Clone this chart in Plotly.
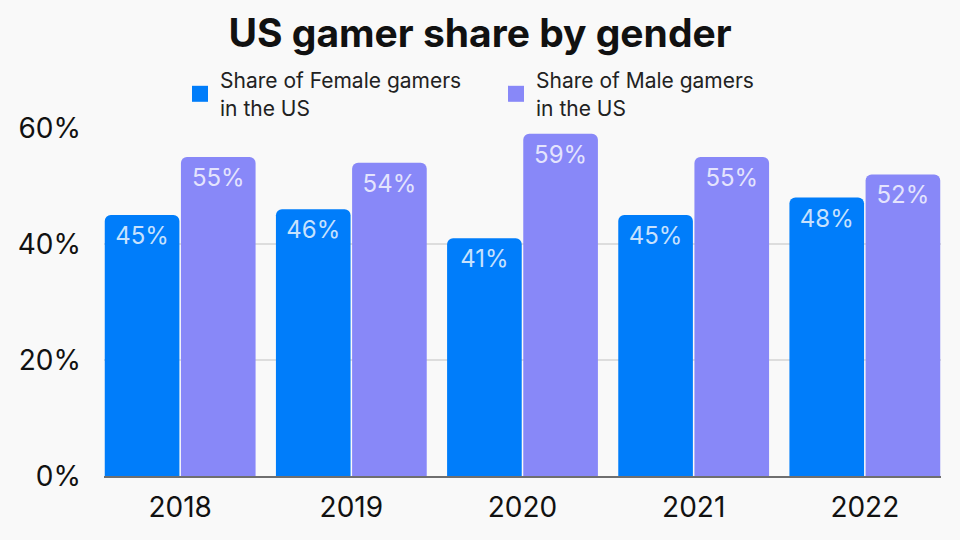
import plotly.graph_objects as go

years = ["2018", "2019", "2020", "2021", "2022"]
female = [45, 46, 41, 45, 48]
male = [55, 54, 59, 55, 52]
series_names = ["Share of Female gamers<br>in the US", "Share of Male gamers<br>in the US"]
colors = ["#007DFA", "#8888F8"]
y_ticks = [0, 20, 40, 60]
y_tick_text = ["0%", "20%", "40%", "60%"]

FONT = "Inter"
bargap = 0.11

fig = go.Figure()
for vals, name, col in zip([female, male], series_names, colors):
    fig.add_trace(go.Bar(
        x=years, y=vals, name=name, showlegend=False,
        marker=dict(color=col, line=dict(width=0)),
        text=[f"{v}%" for v in vals],
        textposition="inside", insidetextanchor="end", textangle=0,
        textfont=dict(family=FONT, size=24, color="rgba(255,255,255,0.78)"),
        cliponaxis=False,
    ))
    fig.add_trace(go.Scatter(
        x=[None], y=[None], mode="markers", name=name,
        marker=dict(symbol="square", size=20, color=col),
    ))

fig.update_layout(
    width=960, height=540,
    paper_bgcolor="#F9F9F9", plot_bgcolor="#F9F9F9",
    font=dict(family=FONT, color="#1a1a1a"),
    margin=dict(l=104, r=19, t=128, b=64, autoexpand=False),
    barmode="group", bargap=bargap, bargroupgap=0.02, barcornerradius=6,
    title=dict(text="<b>US gamer share by gender</b>", x=0.5, xanchor="center",
               y=1 - 33 / 540, yanchor="middle", yref="container",
               font=dict(family=FONT, size=39, color="#111")),
    legend=dict(orientation="h", x=180 / 960, xanchor="left", xref="container",
                y=1 - 60 / 540, yanchor="top", yref="container",
                font=dict(family=FONT, size=21, color="#222"),
                entrywidth=271, itemsizing="trace", bgcolor="rgba(0,0,0,0)",
                tracegroupgap=0),
    xaxis=dict(type="category", range=[-0.5 + bargap / 2, len(years) - 0.5 - bargap / 2],
               showgrid=False, showline=True, linecolor="#6f6f6f", linewidth=1.5,
               tickfont=dict(family=FONT, size=28, color="#111"), ticks="",
               ticklabelstandoff=6, fixedrange=True),
    yaxis=dict(range=[0, 60], tickvals=y_ticks, ticktext=y_tick_text,
               showgrid=True, gridcolor="#DDDDDD", gridwidth=1.5, zeroline=False,
               tickfont=dict(family=FONT, size=28, color="#111"), ticks="",
               ticklabelstandoff=22, fixedrange=True),
)

fig.write_html("out.html")
